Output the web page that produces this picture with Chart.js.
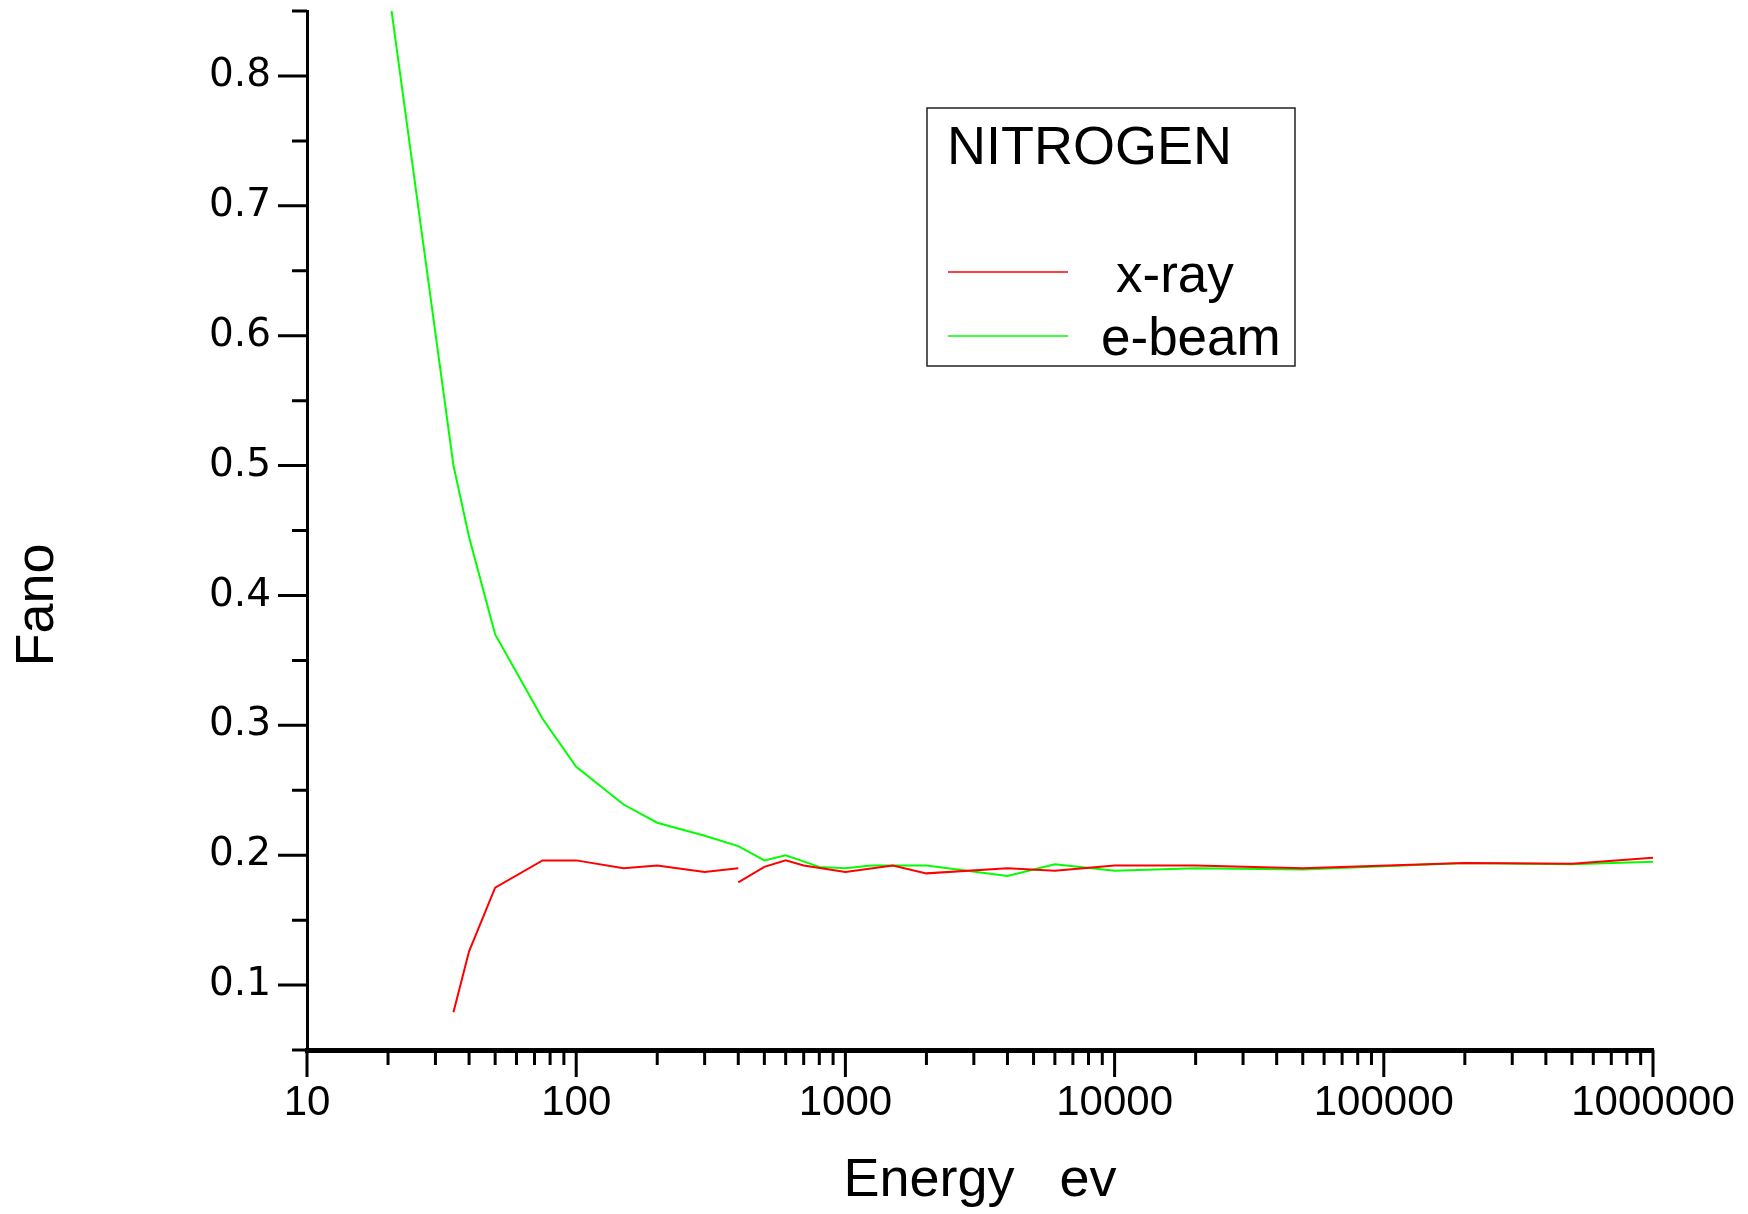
<!DOCTYPE html>
<html>
<head>
<meta charset="utf-8">
<script src="https://cdn.jsdelivr.net/npm/chart.js@4"></script>
<style>
  body { margin: 0; background: #fff; }
  #chart { display: block; }
</style>
</head>
<body>
<canvas id="chart" width="1748" height="1214"></canvas>
<script>
// Fano factor vs energy, nitrogen, x-ray and e-beam
const ctx = document.querySelector("#chart").getContext("2d");

const energyEbeam = [20, 35, 40, 50, 75, 100, 150, 200, 300, 400, 500, 600, 800, 1000, 1250, 2000, 4000, 6000, 10000, 20000, 50000, 200000, 500000, 1000000];
const fanoEbeam = [0.87, 0.5, 0.445, 0.37, 0.305, 0.268, 0.239, 0.225, 0.215, 0.207, 0.196, 0.2, 0.191, 0.19, 0.192, 0.192, 0.184, 0.193, 0.188, 0.19, 0.189, 0.194, 0.193, 0.195];

// x-ray curve comes in two pieces that meet at 400 eV
const energyXrayLow = [35, 40, 50, 75, 100, 150, 200, 300, 400];
const fanoXrayLow = [0.079, 0.126, 0.175, 0.196, 0.196, 0.19, 0.192, 0.187, 0.19];
const energyXrayHigh = [400, 500, 600, 700, 1000, 1500, 2000, 4000, 6000, 10000, 20000, 50000, 200000, 500000, 1000000];
const fanoXrayHigh = [0.179, 0.191, 0.196, 0.192, 0.187, 0.192, 0.186, 0.19, 0.188, 0.192, 0.192, 0.19, 0.194, 0.1935, 0.198];

const xDecades = [10, 100, 1000, 10000, 100000, 1000000];
const yLabelled = [0.1, 0.2, 0.3, 0.4, 0.5, 0.6, 0.7, 0.8];

const xTitle = "Energy   ev";
const yTitle = "Fano";
const legendTitle = "NITROGEN";
const legendItems = [
  { label: "x-ray", color: "#ff0000" },
  { label: "e-beam", color: "#00ff00" },
];

const sansFont = "'Liberation Sans', Arial, sans-serif";

function toPoints(xs, ys) {
  return xs.map((x, i) => ({ x, y: ys[i] }));
}

function xTickValues() {
  const result = [];
  for (let i = 0; i < xDecades.length - 1; i++) {
    for (let m = 1; m < 10; m++) {
      result.push(xDecades[i] * m);
    }
  }
  result.push(xDecades[xDecades.length - 1]);
  return result;
}

function isLabelledY(v) {
  return yLabelled.some((t) => Math.abs(t - v) < 1e-6);
}

// tick marks: long ones for labelled values, short ones for the rest
const tickMarks = {
  id: "tickMarks",
  afterDraw(chart) {
    const c = chart.ctx;
    const xs = chart.scales.x;
    const ys = chart.scales.y;
    c.save();
    c.strokeStyle = "#000";
    c.lineWidth = 3;
    c.beginPath();
    xs.ticks.forEach((t) => {
      const px = xs.getPixelForValue(t.value);
      const len = xDecades.includes(t.value) ? 27 : 15;
      c.moveTo(px, xs.top);
      c.lineTo(px, xs.top + len);
    });
    ys.ticks.forEach((t) => {
      const py = ys.getPixelForValue(t.value);
      const len = isLabelledY(t.value) ? 29 : 15;
      c.moveTo(ys.right, py);
      c.lineTo(ys.right - len, py);
    });
    c.stroke();

    // y title sits a little below the middle of the axis
    c.fillStyle = "#000";
    c.font = "54px " + sansFont;
    c.textAlign = "center";
    c.textBaseline = "middle";
    c.translate(38, 605);
    c.rotate(-Math.PI / 2);
    c.fillText(yTitle, 0, 0);
    c.restore();
  },
};

// boxed legend inside the plot
const boxLegend = {
  id: "boxLegend",
  afterDraw(chart) {
    const c = chart.ctx;
    c.save();
    c.strokeStyle = "#222";
    c.lineWidth = 1.5;
    c.strokeRect(927, 108, 368, 258);
    c.fillStyle = "#000";
    c.textBaseline = "alphabetic";
    c.font = "54px " + sansFont;
    c.fillText(legendTitle, 947, 164);
    const rows = [{ y: 272, tx: 1116, ty: 292 }, { y: 336, tx: 1101, ty: 355 }];
    legendItems.forEach((item, i) => {
      const r = rows[i];
      c.strokeStyle = item.color;
      c.lineWidth = 1.5;
      c.beginPath();
      c.moveTo(948, r.y);
      c.lineTo(1068, r.y);
      c.stroke();
      c.fillStyle = "#000";
      c.font = "53px " + sansFont;
      c.fillText(item.label, r.tx, r.ty);
    });
    c.restore();
  },
};

const chart = new Chart(ctx, {
  type: "line",
  data: {
    datasets: [
      {
        label: "x-ray",
        data: toPoints(energyXrayLow, fanoXrayLow),
        borderColor: "#ff0000",
        borderWidth: 2,
        pointRadius: 0,
        fill: false,
      },
      {
        label: "x-ray (high)",
        data: toPoints(energyXrayHigh, fanoXrayHigh),
        borderColor: "#ff0000",
        borderWidth: 2,
        pointRadius: 0,
        fill: false,
      },
      {
        label: "e-beam",
        data: toPoints(energyEbeam, fanoEbeam),
        borderColor: "#00ff00",
        borderWidth: 2,
        pointRadius: 0,
        fill: false,
      },
    ],
  },
  options: {
    responsive: false,
    animation: false,
    layout: { padding: { top: 11, right: 95, left: 0, bottom: 0 } },
    plugins: {
      legend: { display: false },
      tooltip: { enabled: false },
    },
    scales: {
      x: {
        type: "logarithmic",
        position: "bottom",
        min: 10,
        max: 1000000,
        afterBuildTicks: (s) => {
          s.ticks = xTickValues().map((v) => ({ value: v }));
        },
        afterFit: (s) => {
          s.height = 164;
          s.paddingLeft = 0;
          s.paddingRight = 0;
        },
        grid: { drawOnChartArea: false, drawTicks: false, color: "rgba(0,0,0,0)" },
        border: { display: true, color: "#000", width: 5 },
        ticks: {
          autoSkip: false,
          maxRotation: 0,
          padding: 28,
          color: "#000",
          font: { family: sansFont, size: 42 },
          callback: (v) => (xDecades.includes(v) ? String(v) : ""),
        },
        title: {
          display: true,
          text: xTitle,
          color: "#000",
          font: { family: sansFont, size: 54 },
          padding: { top: 0, bottom: 0 },
        },
      },
      y: {
        type: "linear",
        min: 0.05,
        max: 0.85,
        afterFit: (s) => {
          s.width = 307;
          s.paddingTop = 0;
          s.paddingBottom = 0;
        },
        grid: { drawOnChartArea: false, drawTicks: false, color: "rgba(0,0,0,0)" },
        border: { display: true, color: "#000", width: 3 },
        ticks: {
          stepSize: 0.05,
          autoSkip: false,
          padding: 36,
          color: "#000",
          font: { family: "'DejaVu Sans', sans-serif", size: 39 },
          callback: (v) => (isLabelledY(v) ? v.toFixed(1) : ""),
        },
      },
    },
  },
  plugins: [tickMarks, boxLegend],
});
</script>
</body>
</html>
